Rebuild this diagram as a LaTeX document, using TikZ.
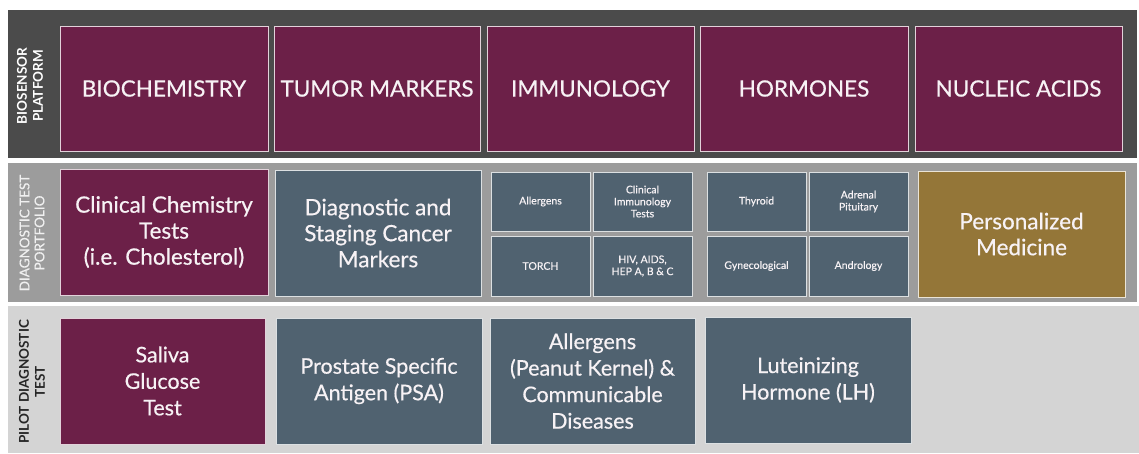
\documentclass[tikz,border=0pt]{standalone}
\usepackage{fontspec}
\setmainfont{Lato}[UprightFeatures={FakeBold=0.5}]
\definecolor{maroon}{HTML}{6C2048}
\definecolor{slate}{HTML}{506270}
\definecolor{gold}{HTML}{947638}
\definecolor{banddark}{HTML}{4B4B4B}
\definecolor{bandmid}{HTML}{9C9C9C}
\definecolor{bandlight}{HTML}{D4D4D4}
\definecolor{txt}{HTML}{F7F2F5}
\begin{document}
\begin{tikzpicture}[x=1pt,y=-1pt,
  box/.style={draw=#1, line width=1pt, inner sep=2pt, text=txt, align=center, font=\fontsize{22.5}{26}\selectfont},
  mbox/.style={box=white!80!maroon, fill=maroon},
  sbox/.style={box=white!80!slate, fill=slate},
  gbox/.style={box=white!80!gold, fill=gold},
  tiny/.style={sbox, font=\fontsize{10.5}{12}\selectfont},
  row3/.style={font=\fontsize{21.5}{26.5}\selectfont},
  side/.style={rotate=90, align=center, font=\bfseries\fontsize{13.5}{16}\selectfont}]
\useasboundingbox (0,0) rectangle (1139,453);
\fill[white] (0,0) rectangle (1139,453);
% bands
\fill[banddark] (8,10) rectangle (1137,158);
\fill[bandmid] (8,163) rectangle (1137,302);
\fill[bandlight] (8,306) rectangle (1139,453);
% side labels
\node[side, text=white] (lab1) at (30,86) {BIOSENSOR\\PLATFORM};
\node[side, text=white!85!bandmid, font=\fontsize{13.5}{15}\selectfont] (lab2) at (32,233) {DIAGNOSTIC TEST\\PORTFOLIO};
\node[side, text=black!85] (lab3) at (32,382) {PILOT DIAGNOSTIC\\TEST};
% row 1
\node[mbox, minimum width=208pt, minimum height=125pt] (bio) at (164,88.5) {BIOCHEMISTRY};
\node[mbox, minimum width=206pt, minimum height=125pt] (tum) at (377,88.5) {TUMOR MARKERS};
\node[mbox, minimum width=207pt, minimum height=125pt] (imm) at (590.5,88.5) {IMMUNOLOGY};
\node[mbox, minimum width=208pt, minimum height=125pt] (hor) at (804,88.5) {HORMONES};
\node[mbox, minimum width=207pt, minimum height=125pt] (nuc) at (1018.5,88.5) {NUCLEIC ACIDS};
% row 2
\node[mbox, minimum width=208pt, minimum height=126pt] (clin) at (164,232) {Clinical Chemistry\\Tests\\(i.e. Cholesterol)};
\node[sbox, minimum width=206pt, minimum height=126pt] (diag) at (378,233) {Diagnostic and\\Staging Cancer\\Markers};
\node[tiny, minimum width=99pt, minimum height=59pt] (alg) at (540.5,201.5) {Allergens};
\node[tiny, minimum width=99pt, minimum height=59pt] (cit) at (642.5,201.5) {Clinical\\Immunology\\Tests};
\node[tiny, minimum width=99pt, minimum height=60pt] (torch) at (540.5,266) {TORCH};
\node[tiny, minimum width=99pt, minimum height=60pt] (hiv) at (642.5,266) {HIV, AIDS,\\HEP A, B \& C};
\node[tiny, minimum width=99pt, minimum height=59pt] (thy) at (756.5,201.5) {Thyroid};
\node[tiny, minimum width=99pt, minimum height=59pt] (adr) at (858.5,201.5) {Adrenal\\Pituitary};
\node[tiny, minimum width=99pt, minimum height=60pt] (gyn) at (756.5,266) {Gynecological};
\node[tiny, minimum width=99pt, minimum height=60pt] (andr) at (858.5,266) {Andrology};
\node[gbox, minimum width=207pt, minimum height=126pt] (pers) at (1021.5,234) {Personalized\\Medicine};
% row 3
\node[mbox, row3, minimum width=205pt, minimum height=126pt] (sal) at (162.5,381) {Saliva\\Glucose\\Test};
\node[sbox, row3, minimum width=206pt, minimum height=126pt] (psa) at (379,381) {Prostate Specific\\Antigen (PSA)};
\node[sbox, row3, minimum width=205pt, minimum height=126pt] (all) at (592.5,381) {Allergens\\(Peanut Kernel) \&\\Communicable\\Diseases};
\node[sbox, row3, minimum width=206pt, minimum height=126pt] (lh) at (808,380) {Luteinizing\\Hormone (LH)};
\end{tikzpicture}
\end{document}
